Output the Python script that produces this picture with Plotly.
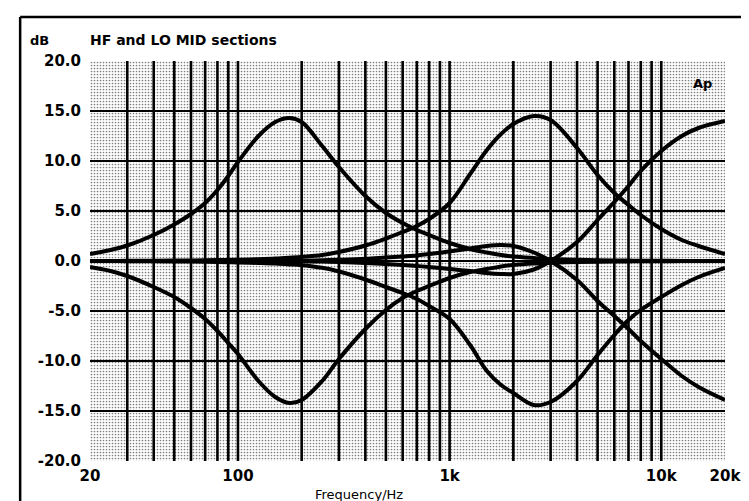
import math
import plotly.graph_objects as go

# frequency points (Hz) read along the sweep
freq = [20, 25, 30, 40, 50, 60, 70, 80, 90, 100, 125, 150, 175, 200, 250, 300,
        400, 500, 600, 700, 800, 1000, 1250, 1500, 1750, 2000, 2500, 3000,
        4000, 5000, 6000, 7000, 8000, 10000, 12500, 15000, 20000]

# response curves in dB
lomid_boost = [0.7, 1.1, 1.55, 2.6, 3.65, 4.7, 5.8, 7.1, 8.5, 9.9, 12.5, 13.9, 14.3, 13.9,
               11.5, 9.4, 6.5, 4.8, 3.8, 3.1, 2.6, 1.8, 1.2, 0.85, 0.6, 0.45, 0.3, 0.2,
               0.12, 0.08, 0.05, 0.04, 0.03, 0.02, 0.01, 0.0, 0.0]
lomid_cut = [-0.6, -1.0, -1.5, -2.6, -3.6, -4.7, -5.8, -7.0, -8.2, -9.3, -12.0, -13.6, -14.2,
             -13.9, -12.0, -9.8, -6.8, -4.9, -3.7, -3.0, -2.5, -1.7, -1.1, -0.8, -0.55, -0.4,
             -0.25, -0.18, -0.1, -0.07, -0.05, -0.04, -0.03, -0.02, -0.01, 0.0, 0.0]
hf_boost = [0.0, 0.0, 0.02, 0.03, 0.05, 0.06, 0.08, 0.1, 0.11, 0.13, 0.18, 0.24, 0.32, 0.4,
            0.6, 0.9, 1.55, 2.25, 2.9, 3.5, 4.2, 5.8, 8.7, 11.1, 12.7, 13.7, 14.5, 14.1,
            11.3, 8.6, 6.8, 5.6, 4.6, 3.2, 2.1, 1.5, 0.7]
hf_cut = [0.0, 0.0, -0.02, -0.03, -0.05, -0.06, -0.08, -0.1, -0.12, -0.14, -0.2, -0.26, -0.34,
          -0.42, -0.68, -1.05, -1.85, -2.6, -3.2, -3.8, -4.5, -5.8, -8.4, -11.0, -12.4, -13.2,
          -14.4, -14.1, -12.0, -9.4, -7.4, -5.9, -4.9, -3.6, -2.4, -1.6, -0.7]
shelf_boost = [0.0, 0.0, 0.0, 0.0, 0.0, 0.0, 0.0, 0.0, 0.0, 0.0, 0.0, 0.0, -0.01, -0.03,
               -0.06, -0.1, -0.2, -0.3, -0.4, -0.5, -0.6, -0.8, -1.0, -1.2, -1.3, -1.3,
               -0.85, 0.0, 1.9, 4.1, 5.9, 7.5, 9.0, 11.0, 12.5, 13.3, 14.0]
shelf_cut = [0.0, 0.0, 0.0, 0.0, 0.0, 0.0, 0.0, 0.0, 0.0, 0.0, 0.0, 0.0, 0.01, 0.03,
             0.07, 0.12, 0.22, 0.35, 0.45, 0.55, 0.7, 0.95, 1.25, 1.5, 1.6, 1.5,
             0.85, 0.0, -1.9, -4.0, -5.5, -6.8, -8.0, -9.8, -11.5, -12.6, -13.9]

curves = [lomid_boost, lomid_cut, hf_boost, hf_cut, shelf_boost, shelf_cut]

# axes
x_min, x_max = 20, 20000
y_min, y_max = -20, 20
x_grid = [30, 40, 50, 60, 70, 80, 90, 100, 200, 300, 400, 500, 600, 700, 800, 900,
          1000, 2000, 3000, 4000, 5000, 6000, 7000, 8000, 9000, 10000]
y_grid = [-15, -10, -5, 0, 5, 10, 15]
x_tick_vals = [20, 100, 1000, 10000, 20000]
x_tick_text = ["20", "100", "1k", "10k", "20k"]
y_tick_vals = [-20, -15, -10, -5, 0, 5, 10, 15, 20]
y_tick_text = [f"{v:.1f}" for v in y_tick_vals]

FONT = "DejaVu Sans"

fig = go.Figure()

# stippled plot background
fig.add_trace(go.Scatter(
    x=[x_min, x_max, x_max, x_min, x_min], y=[y_min, y_min, y_max, y_max, y_min],
    mode="lines", line=dict(width=0), fill="toself", fillcolor="white",
    fillpattern=dict(shape=".", fgcolor="black", bgcolor="white", size=3, solidity=0.25),
    hoverinfo="skip", showlegend=False))

# grid lines drawn on top of the stipple
vx, vy = [], []
for f in x_grid:
    vx += [f, f, None]
    vy += [y_min, y_max, None]
fig.add_trace(go.Scatter(x=vx, y=vy, mode="lines", line=dict(color="black", width=2.6),
                         hoverinfo="skip", showlegend=False))
hx, hy = [], []
for d in y_grid:
    hx += [x_min, x_max, None]
    hy += [d, d, None]
fig.add_trace(go.Scatter(x=hx, y=hy, mode="lines", line=dict(color="black", width=2),
                         hoverinfo="skip", showlegend=False))

for c in curves:
    fig.add_trace(go.Scatter(x=freq, y=c, mode="lines",
                             line=dict(color="black", width=4, shape="spline", smoothing=1.0),
                             hoverinfo="skip", showlegend=False))

fig.update_layout(
    width=749, height=501,
    margin=dict(l=82, r=32, t=53, b=48),
    paper_bgcolor="white", plot_bgcolor="white",
    font=dict(family=FONT, color="black"),
    xaxis=dict(type="log", range=[math.log10(x_min), math.log10(x_max)],
               tickvals=x_tick_vals, ticktext=x_tick_text, showgrid=False, zeroline=False,
               showline=False, ticks="", ticklabelstandoff=4,
               tickfont=dict(family=FONT, size=15, weight="bold")),
    yaxis=dict(range=[y_min, y_max], tickvals=y_tick_vals, ticktext=y_tick_text,
               showgrid=False, zeroline=False, showline=False, ticks="", ticklabelstandoff=8,
               tickfont=dict(family=FONT, size=15, weight="bold")),
    shapes=[
        dict(type="line", xref="paper", yref="paper", x0=-0.11, x1=-0.11, y0=1.11, y1=-0.13,
             line=dict(color="black", width=2.5)),
        dict(type="line", xref="paper", yref="paper", x0=-0.11, x1=1.06, y0=1.11, y1=1.11,
             line=dict(color="black", width=2.5)),
    ],
    annotations=[
        dict(text="dB", xref="paper", yref="paper", x=-0.08, y=1.052, showarrow=False,
             xanchor="center", yanchor="middle", font=dict(size=13, weight="bold")),
        dict(text="HF and LO MID sections", xref="paper", yref="paper", x=-0.003, y=1.052,
             showarrow=False, xanchor="left", yanchor="middle",
             font=dict(size=14, weight="bold")),
        dict(text="Ap", xref="paper", yref="paper", x=0.965, y=0.945, showarrow=False,
             xanchor="center", yanchor="middle", font=dict(size=13, weight="bold")),
        dict(text="Frequency/Hz", xref="paper", yref="paper", x=0.424, y=-0.083,
             showarrow=False, xanchor="center", yanchor="middle", font=dict(size=13)),
    ],
)

fig.write_html("out.html")
